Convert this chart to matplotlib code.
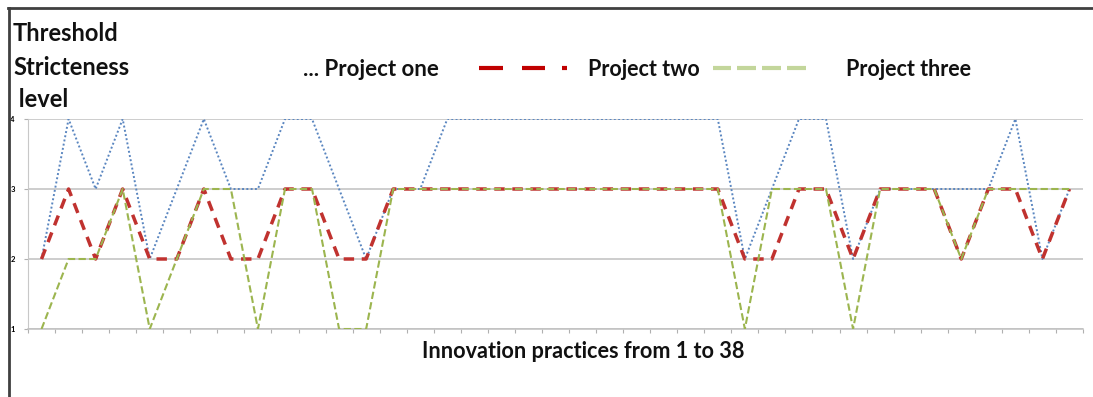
import matplotlib
matplotlib.use("Agg")
import matplotlib.pyplot as plt
from matplotlib.lines import Line2D

# ---- data ----
practices = list(range(1, 40))
project_one = [2, 4, 3, 4, 2, 3, 4, 3, 3, 4, 4, 3, 2, 3, 3, 4, 4, 4, 4, 4, 4, 4, 4, 4, 4, 4,
               2, 3, 4, 4, 2, 3, 3, 3, 3, 3, 4, 2, 3]
project_two = [2, 3, 2, 3, 2, 2, 3, 2, 2, 3, 3, 2, 2, 3, 3, 3, 3, 3, 3, 3, 3, 3, 3, 3, 3, 3,
               2, 2, 3, 3, 2, 3, 3, 3, 2, 3, 3, 2, 3]
project_three = [1, 2, 2, 3, 1, 2, 3, 3, 1, 3, 3, 1, 1, 3, 3, 3, 3, 3, 3, 3, 3, 3, 3, 3, 3, 3,
                 1, 3, 3, 3, 1, 3, 3, 3, 2, 3, 3, 3, 3]
y_ticks = [1, 2, 3, 4]
y_tick_labels = ["1", "2", "3", "4"]
series_names = ["... Project one", "Project two", "Project three"]
y_title = ["Threshold", "Stricteness", " level"]
x_title = "Innovation practices from 1 to 38"

W, H = 1093, 397
fig = plt.figure(figsize=(W / 100, H / 100), dpi=100)
FONT = "Lato"


def fx(x):
    return x / W


def fy(y):
    return 1 - y / H


ax = fig.add_axes([fx(28), fy(329), fx(1083) - fx(28), fy(119) - fy(329)])

blue = "#5a86c0"
red = "#c0322f"
green = "#9cb54f"

ax.plot(practices, project_one, color=blue, lw=1.4, linestyle=(0, (1, 1.2)), zorder=3)
ax.plot(practices, project_two, color=red, lw=2.5, linestyle=(0, (3.0, 2.2)), zorder=4)
ax.plot(practices, project_three, color=green, lw=1.5, linestyle=(0, (3.5, 1.6)), zorder=5)

ax.set_xlim(0.5, len(practices) + 0.5)
ax.set_ylim(1, 4)
ax.set_xticks([p - 0.5 for p in practices] + [len(practices) + 0.5])
ax.set_xticklabels([])
ax.set_yticks(y_ticks)
ax.set_yticklabels(y_tick_labels, fontsize=5.5, fontweight="bold", family=FONT)
ax.tick_params(axis="x", direction="out", length=3, width=0.8, color="#b0b0b0")
ax.tick_params(axis="y", direction="out", length=3, width=0.8, color="#b0b0b0", pad=6.5)
ax.grid(axis="y", color="#c0c0c0", lw=1.1)
ax.set_axisbelow(True)
for s in ["top", "right"]:
    ax.spines[s].set_visible(False)
ax.spines["left"].set_color("#c8c8c8")
ax.spines["bottom"].set_color("#c0c0c0")
ax.spines["bottom"].set_linewidth(1.1)

# frame lines
fig.add_artist(Line2D([fx(9), fx(9)], [fy(8), 0], transform=fig.transFigure,
                      color="#404040", lw=2))
fig.add_artist(Line2D([fx(8), 1], [fy(8), fy(8)], transform=fig.transFigure,
                      color="#404040", lw=2))

# y title
for txt, yb in zip(y_title, [41, 75, 107]):
    fig.text(fx(13), fy(yb), txt, fontsize=17, family=FONT, fontweight="bold",
             ha="left", va="baseline", color="#111111")

# legend
leg_y = 70
lfs = 15.5
fig.text(fx(303), fy(leg_y), series_names[0], fontsize=16, family=FONT,
         fontweight="bold", ha="left", va="center", color="#111111")
for x0, x1 in [(479, 503), (522, 545), (562, 567)]:
    fig.add_artist(Line2D([fx(x0), fx(x1)], [fy(68), fy(68)], transform=fig.transFigure,
                          color="#c00000", lw=3, solid_capstyle="butt"))
fig.text(fx(588), fy(leg_y), series_names[1], fontsize=lfs, family=FONT,
         fontweight="bold", ha="left", va="center", color="#111111")
for x0, x1 in [(713, 731), (737, 756), (762, 781), (787, 806)]:
    fig.add_artist(Line2D([fx(x0), fx(x1)], [fy(68), fy(68)], transform=fig.transFigure,
                          color="#c3d69b", lw=3, solid_capstyle="butt"))
fig.text(fx(846), fy(leg_y), series_names[2], fontsize=lfs, family=FONT,
         fontweight="bold", ha="left", va="center", color="#111111")

# x title
fig.text(fx(583), fy(352), x_title, fontsize=15.6, family=FONT, fontweight="bold",
         ha="center", va="center", color="#111111")

fig.savefig("out.png", dpi=100)
